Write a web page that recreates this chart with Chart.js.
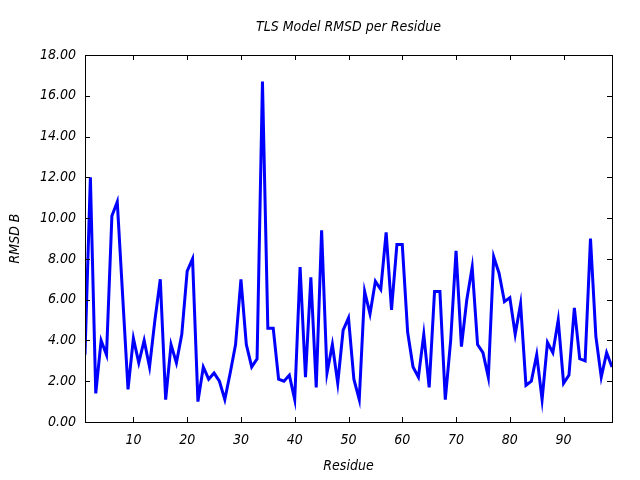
<!DOCTYPE html>
<html>
<head>
<meta charset="utf-8">
<script src="https://cdn.jsdelivr.net/npm/chart.js@4.4.1/dist/chart.umd.min.js"></script>
<style>
  html, body { margin: 0; padding: 0; background: #fff; }
  #wrap { width: 640px; height: 480px; }
</style>
</head>
<body>
<div id="wrap"><canvas id="c" width="640" height="480"></canvas></div>
<script>
const residues = [1,2,3,4,5,6,7,8,9,10,11,12,13,14,15,16,17,18,19,20,
  21,22,23,24,25,26,27,28,29,30,31,32,33,34,35,36,37,38,39,40,
  41,42,43,44,45,46,47,48,49,50,51,52,53,54,55,56,57,58,59,60,
  61,62,63,64,65,66,67,68,69,70,71,72,73,74,75,76,77,78,79,80,
  81,82,83,84,85,86,87,88,89,90,91,92,93,94,95,96,97,98,99];
const rmsdB = [3.3,12.0,1.4,4.0,3.3,10.1,10.8,6.2,1.6,4.1,
  2.9,4.0,2.7,5.0,7.0,1.1,3.8,2.9,4.3,7.4,
  8.0,1.0,2.7,2.1,2.4,2.0,1.1,2.4,3.8,7.0,
  3.8,2.7,3.1,16.7,4.6,4.6,2.1,2.0,2.3,1.1,
  7.6,2.2,7.1,1.7,9.4,2.4,3.8,1.9,4.5,5.1,
  2.1,1.1,6.4,5.3,6.9,6.5,9.3,5.5,8.7,8.7,
  4.4,2.7,2.2,4.3,1.7,6.4,6.4,1.1,4.0,8.4,
  3.7,6.0,7.6,3.8,3.4,2.2,8.1,7.3,5.9,6.1,
  4.3,5.8,1.8,2.0,3.3,1.1,3.9,3.4,5.0,1.9,
  2.3,5.6,3.1,3.0,9.0,4.2,2.2,3.4,2.7];
const xTicks = [10,20,30,40,50,60,70,80,90];
const yTicks = [0,2,4,6,8,10,12,14,16,18];

const FONT = "'DejaVu Sans Condensed', 'DejaVu Sans', sans-serif";
const FSIZE = 14;

const boxTicks = {
  id: 'boxTicks',
  afterDatasetsDraw(chart) {
    const {ctx, chartArea: a, scales: {x, y}} = chart;
    const L = 5;
    ctx.save();
    ctx.strokeStyle = '#000';
    ctx.lineWidth = 1;
    ctx.beginPath();
    xTicks.forEach(v => {
      const px = Math.round(x.getPixelForValue(v)) + 0.5;
      ctx.moveTo(px, a.bottom); ctx.lineTo(px, a.bottom - L);
      ctx.moveTo(px, a.top); ctx.lineTo(px, a.top + L);
    });
    yTicks.forEach(v => {
      const py = Math.round(y.getPixelForValue(v)) + 0.5;
      ctx.moveTo(a.left, py); ctx.lineTo(a.left + L, py);
      ctx.moveTo(a.right, py); ctx.lineTo(a.right - L, py);
    });
    ctx.stroke();
    ctx.strokeRect(Math.round(a.left) + 0.5, Math.round(a.top) + 0.5,
                   Math.round(a.right - a.left), Math.round(a.bottom - a.top));
    ctx.restore();
  }
};

new Chart(document.getElementById('c'), {
  type: 'line',
  data: {
    datasets: [{
      data: residues.map((r, i) => ({x: r, y: rmsdB[i]})),
      borderColor: '#0000ff',
      borderWidth: 3,
      pointRadius: 0,
      tension: 0,
      fill: false
    }]
  },
  options: {
    responsive: false,
    animation: false,
    layout: { padding: { left: 0, right: 28, top: 0, bottom: 0 } },
    plugins: {
      legend: { display: false },
      tooltip: { enabled: false },
      title: {
        display: true,
        fullSize: false,
        text: 'TLS Model RMSD per Residue',
        color: '#000',
        font: { family: FONT, size: FSIZE, style: 'italic', weight: 'normal' },
        padding: { top: 18.6, bottom: 19.6 }
      }
    },
    scales: {
      x: {
        type: 'linear',
        min: 1,
        max: 99,
        afterBuildTicks: s => { s.ticks = xTicks.map(v => ({value: v})); },
        afterFit: s => { s.height = 58; },
        grid: { display: false, drawTicks: false },
        border: { display: false },
        ticks: {
          padding: 10,
          color: '#000',
          maxRotation: 0,
          font: { family: FONT, size: FSIZE, style: 'italic' }
        },
        title: {
          display: true,
          text: 'Residue',
          color: '#000',
          font: { family: FONT, size: FSIZE, style: 'italic' },
          padding: { top: 0, bottom: 5 }
        }
      },
      y: {
        type: 'linear',
        min: 0,
        max: 18,
        afterBuildTicks: s => { s.ticks = yTicks.map(v => ({value: v})); },
        afterFit: s => { s.width = 85; },
        grid: { display: false, drawTicks: false },
        border: { display: false },
        ticks: {
          padding: 9,
          color: '#000',
          font: { family: FONT, size: FSIZE, style: 'italic' },
          callback: v => Number(v).toFixed(2)
        },
        title: {
          display: true,
          text: 'RMSD B',
          color: '#000',
          font: { family: FONT, size: FSIZE, style: 'italic' },
          padding: { top: 7, bottom: 0 }
        }
      }
    }
  },
  plugins: [boxTicks]
});
</script>
</body>
</html>
